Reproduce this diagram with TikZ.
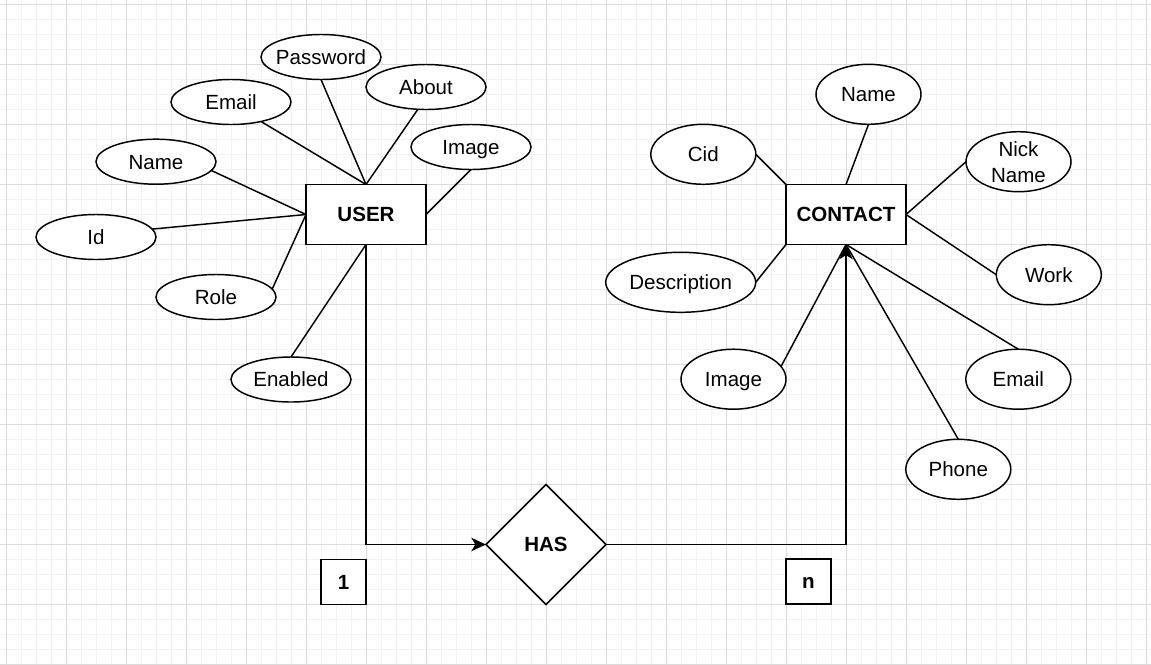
\documentclass[tikz,border=0pt]{standalone}
\usepackage{fontspec}
\setmainfont{Liberation Sans}
\usetikzlibrary{shapes.geometric,arrows.meta}
\begin{document}
\begin{tikzpicture}[x=0.75pt,y=-0.75pt,
  every node/.style={font=\fontsize{15.4}{19.5}\selectfont, inner sep=0pt, outer sep=0pt},
  every label/.style={text height=11pt, text depth=0pt},
  minorgrid/.style={line width=0.75pt, black!5},
  majorgrid/.style={line width=0.75pt, black!14},
  conn/.style={line width=1.1pt, black},
  ent/.style={draw, fill=white, line width=1.1pt, rectangle, minimum width=90pt, minimum height=45pt, text height=11pt, text depth=0pt, font=\fontsize{15.4}{19.5}\selectfont\bfseries},
  attr/.style={draw, fill=white, ellipse, line width=1.1pt, minimum width=90pt, minimum height=33.75pt},
  attrb/.style={draw, fill=white, ellipse, line width=1.1pt, minimum width=78.75pt, minimum height=45pt},
  rel/.style={draw, fill=white, diamond, aspect=1, line width=1.1pt, minimum width=90pt, minimum height=90pt, text height=11pt, text depth=0pt, font=\fontsize{15.4}{19.5}\selectfont\bfseries},
  card/.style={draw, fill=white, rectangle, line width=1.1pt, minimum size=33.75pt, text height=11pt, text depth=0pt, font=\fontsize{15.4}{19.5}\selectfont\bfseries},
  arr/.style={-{Stealth[length=11pt,width=10pt,inset=3pt]}}
]
\useasboundingbox (0,0) rectangle (1151,664);
% grid
\foreach \k in {0,...,76} \draw[minorgrid] ({6.7+15*\k},0) -- ({6.7+15*\k},664);
\foreach \k in {0,...,44} \draw[minorgrid] (0,{4+15*\k}) -- (1151,{4+15*\k});
\foreach \k in {0,...,19} \draw[majorgrid] ({6.7+60*\k},0) -- ({6.7+60*\k},664);
\foreach \k in {0,...,11} \draw[majorgrid] (0,{4+60*\k}) -- (1151,{4+60*\k});

% entities and relation
\node[ent] (user) at (366,214.5) {USER};
\node[ent] (contact) at (846,214.5) {CONTACT};
\node[rel] (has) at (546,544.5) {HAS};
\node[card] (one) at (343.5,582) {1};
\node[card] (many) at (808.5,581.5) {n};

% user attributes
\node[attr, label=center:Password] (pw) at (321,57) {};
\node[attr, label=center:Email] (uemail) at (231,102) {};
\node[attr, label=center:About] (about) at (426,87) {};
\node[attr, label=center:Image] (uimage) at (471,147) {};
\node[attr, label=center:Name] (uname) at (156,161.7) {};
\node[attr, label=center:Id] (id) at (96,237) {};
\node[attr, label=center:Role] (role) at (216,297) {};
\node[attr, label=center:Enabled] (enabled) at (291,379.5) {};

% contact attributes
\node[attrb, label=center:Name] (cname) at (868.5,94.3) {};
\node[attrb, label=center:Cid] (cid) at (703.3,154.3) {};
\node[attrb, label={[align=center, text height=30.5pt, text depth=0pt]center:Nick\\Name}] (nick) at (1018.5,161.7) {};
\node[attrb, label=center:Work] (work) at (1048.8,274.7) {};
\node[attrb, minimum width=112.5pt, label=center:Description] (desc) at (680.7,282.3) {};
\node[attrb, label=center:Image] (cimage) at (733.5,379.2) {};
\node[attrb, label=center:Email] (cemail) at (1018.3,379.2) {};
\node[attrb, label=center:Phone] (phone) at (958.3,469.3) {};

% user connectors
\draw[conn] (pw.south) -- (user.north);
\draw[conn] (uemail.-33) -- (user.north);
\draw[conn] (about.-110) -- (user.north);
\draw[conn] (uimage.south) -- (user.east);
\draw[conn] (uname.-9) -- (user.west);
\draw[conn] (id.8) -- (user.west);
\draw[conn] (role.8) -- (user.west);
\draw[conn] (enabled.north) -- (user.south);
\draw[conn, arr] (user.south) |- (has.west);

% contact connectors
\draw[conn] (cname.south) -- (contact.north);
\draw[conn] (cid.east) -- (contact.north west);
\draw[conn] (nick.west) -- (contact.east);
\draw[conn] (work.west) -- (contact.east);
\draw[conn] (desc.east) -- (contact.south west);
\draw[conn] (cimage.15) -- (contact.south);
\draw[conn] (cemail.north) -- (contact.south);
\draw[conn] (phone.north) -- (contact.south);
\draw[conn, arr] (has.east) -| (contact.south);
\end{tikzpicture}
\end{document}
